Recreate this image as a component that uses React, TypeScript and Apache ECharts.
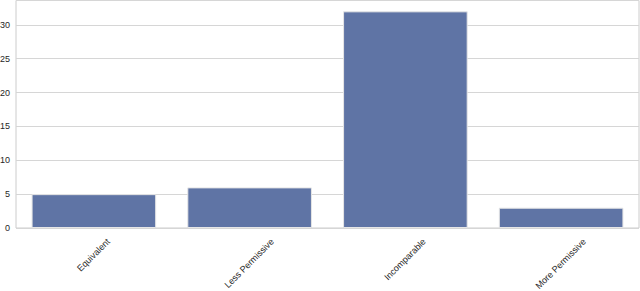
import React, { useEffect, useRef } from "react";
import * as echarts from "echarts";

const categories = ["Equivalent", "Less Permissive", "Incomparable", "More Permissive"];
const counts = [5, 6, 32, 3];
const yMax = 33.6;

const FONT = '"Liberation Sans", Arial, sans-serif';
const FONT_SIZE = 9;

function measure(text: string): number {
  const c = document.createElement("canvas").getContext("2d");
  if (!c) return text.length * 5;
  c.font = `${FONT_SIZE}px ${FONT}`;
  return c.measureText(text).width;
}

export default function App() {
  const ref = useRef<HTMLDivElement>(null);
  useEffect(() => {
    if (!ref.current) return;
    const chart = echarts.init(ref.current, undefined, { renderer: "svg" });
    const catData = categories.map((c) => {
      const L = measure(c);
      return {
        value: c,
        textStyle: {
          align: "center",
          verticalAlign: "top",
          padding: [Math.max(0, 0.25 * L - 5), 0.5 * L, 0, 0],
        },
      };
    });
    chart.setOption({
      animation: false,
      grid: {
        left: 16,
        right: 1,
        top: 0.5,
        bottom: 63,
        show: true,
        borderColor: "#cccccc",
        borderWidth: 1,
        containLabel: false,
        outerBoundsMode: "none",
      },
      xAxis: {
        type: "category",
        data: catData,
        axisLine: { show: false },
        axisTick: { show: false },
        axisLabel: {
          rotate: 45,
          align: "center",
          verticalAlign: "middle",
          fontFamily: FONT,
          fontSize: FONT_SIZE,
          color: "#262626",
          margin: 12.5,
          interval: 0,
          hideOverlap: false,
        },
      },
      yAxis: {
        type: "value",
        min: 0,
        max: yMax,
        interval: 5,
        axisLine: { show: false },
        axisTick: { show: false },
        axisLabel: {
          fontFamily: FONT,
          fontSize: FONT_SIZE,
          color: "#262626",
          margin: 6,
          showMaxLabel: false,
        },
        splitLine: { lineStyle: { color: "#d6d6d6", width: 1 } },
      },
      series: [
        {
          type: "bar",
          data: counts,
          barCategoryGap: "20%",
          itemStyle: {
            color: "#5f74a5",
            borderColor: "#e6e6e6",
            borderWidth: 1,
          },
        },
      ],
    });
    return () => chart.dispose();
  }, []);
  return (
    <div
      ref={ref}
      style={{ position: "absolute", left: 0, top: 0, width: 640, height: 291 }}
    />
  );
}
